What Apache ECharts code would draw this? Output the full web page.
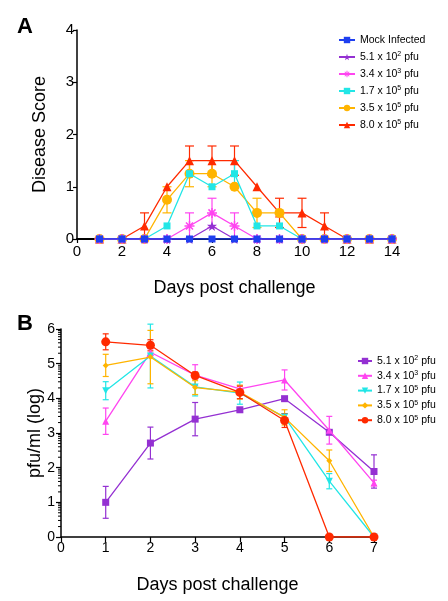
<!DOCTYPE html>
<html><head><meta charset="utf-8">
<script src="https://cdn.jsdelivr.net/npm/echarts@6/dist/echarts.min.js"></script>
<style>html,body{margin:0;padding:0;background:#fff}#c{width:448px;height:601px}</style>
</head><body><div id="c"></div>
<script>
// ---------- Panel A data ----------
const daysA = [1,2,3,4,5,6,7,8,9,10,11,12,13,14];
const namesA = ['Mock Infected','5.1 x 10^2 pfu','3.4 x 10^3 pfu','1.7 x 10^5 pfu','3.5 x 10^5 pfu','8.0 x 10^5 pfu'];
const mockA = [0,0,0,0,0,0,0,0,0,0,0,0,0,0];
const a512 = [0,0,0,0,0,0.25,0,0,0,0,0,0,0,0];
const a343 = [0,0,0,0,0.25,0.5,0.25,0,0,0,0,0,0,0];
const a175 = [0,0,0,0.25,1.25,1.0,1.25,0.25,0.25,0,0,0,0,0];
const a355 = [0,0,0,0.75,1.25,1.25,1.0,0.5,0.5,0,0,0,0,0];
const a805 = [0,0,0.25,1.0,1.5,1.5,1.5,1.0,0.5,0.5,0.25,0,0,0];
const errA343 = [null,null,null,null,0.25,0.28,0.25,null,null,null,null,null,null,null];
const errA175 = [null,null,null,null,null,null,0.25,null,null,null,null,null,null,null];
const errA355 = [null,null,null,0.25,0.25,0.25,null,0.28,null,null,null,null,null,null];
const errA805 = [null,null,0.25,null,0.28,0.28,0.28,null,0.28,0.28,0.25,null,null,null];
const yTicksA = [0,1,2,3,4];
const xTicksA = [0,2,4,6,8,10,12,14];

// ---------- Panel B data ----------
const daysB = [1,2,3,4,5,6,7];
// trailing space keeps the B legend entries distinct from panel A series
const namesB = ['5.1 x 10^2 pfu ','3.4 x 10^3 pfu ','1.7 x 10^5 pfu ','3.5 x 10^5 pfu ','8.0 x 10^5 pfu '];
const b512 = [1.0,2.71,3.40,3.67,3.99,3.02,1.89];
const b343 = [3.34,5.33,4.67,4.27,4.53,3.08,1.56];
const b175 = [4.22,5.22,4.33,4.15,3.46,1.61,0];
const b355 = [4.95,5.19,4.31,4.18,3.45,2.2,0];
const b805 = [5.63,5.53,4.66,4.17,3.36,0,0];
const errB512 = [0.46,0.46,0.48,0.05,null,0.05,0.48];
const errB343 = [0.38,0.1,0.3,0.1,0.29,0.4,0.08];
const errB175 = [0.26,0.92,0.26,0.32,0.1,0.22,null];
const errB355 = [0.32,0.77,0.2,0.2,0.22,0.31,null];
const errB805 = [0.23,0.16,0.1,0.18,0.2,null,null];
const yTicksB = [0,1,2,3,4,5,6];
const xTicksB = [0,1,2,3,4,5,6,7];

const FONT = 'Liberation Sans, Arial, Helvetica, sans-serif';
const C = {mock:'#1e3ff0', pur:'#9430d2', mag:'#ff45f0', cyan:'#22e6e6', ora:'#ffb400', red:'#ff2a00'};

const STAR = 'path://M0,-10L2.35,-3.24L9.51,-3.09L3.8,1.24L5.88,8.09L0,4L-5.88,8.09L-3.8,1.24L-9.51,-3.09L-2.35,-3.24Z';
const AST = 'path://M-1.5,-10L1.5,-10L1.5,10L-1.5,10Z M-10,-1.5L10,-1.5L10,1.5L-10,1.5Z M-8.1,-6L-6,-8.1L8.1,6L6,8.1Z M6,-8.1L8.1,-6L-6,8.1L-8.1,6Z';

function pairs(xs, ys){ return xs.map((x,i)=>[x, ys[i]]); }
function errData(xs, ys, es){ const out=[]; xs.forEach((x,i)=>{ if(es[i]!=null) out.push([x, ys[i], es[i]]); }); return out; }

function errSeries(xi, yi, data, color, cap, z){
  return {
    type:'custom', xAxisIndex:xi, yAxisIndex:yi, silent:true, z:z, clip:false,
    data:data,
    renderItem:function(params, api){
      const x=api.value(0), y=api.value(1), e=api.value(2);
      const hi=api.coord([x, y+e]), lo=api.coord([x, Math.max(0,y-e)]);
      const st={stroke:color, lineWidth:1.2};
      return {type:'group', children:[
        {type:'line', shape:{x1:hi[0],y1:hi[1],x2:lo[0],y2:lo[1]}, style:st},
        {type:'line', shape:{x1:hi[0]-cap,y1:hi[1],x2:hi[0]+cap,y2:hi[1]}, style:st},
        {type:'line', shape:{x1:lo[0]-cap,y1:lo[1],x2:lo[0]+cap,y2:lo[1]}, style:st}
      ]};
    }
  };
}
function lineSeries(name, xi, yi, data, color, symbol, size, z, extra){
  return Object.assign({
    name:name, type:'line', xAxisIndex:xi, yAxisIndex:yi, data:data,
    symbol:symbol, symbolSize:size, showAllSymbol:true, z:z,
    lineStyle:{color:color, width:1.3}, itemStyle:{color:color},
    emphasis:{disabled:true}, animation:false
  }, extra||{});
}

const minorB = [];
for (let n=0;n<6;n++) for (let k=2;k<=9;k++) minorB.push([0, n+Math.log10(k)]);

const supFmt = name => name.trim().replace(/\^(\d)/, '{sup|$1}');
const legendText = {fontSize:10.5, fontFamily:FONT, color:'#000', lineHeight:12,
  rich:{sup:{fontSize:7, fontFamily:FONT, color:'#000', verticalAlign:'top', lineHeight:8, padding:[0,0,5,0]}}};

const option = {
  animation:false,
  backgroundColor:'#fff',
  title:[
    {text:'A', left:12, top:11, textStyle:{fontSize:22, fontWeight:'bold', fontFamily:FONT, color:'#000'}},
    {text:'B', left:12, top:308, textStyle:{fontSize:22, fontWeight:'bold', fontFamily:FONT, color:'#000'}}
  ],
  legend:[
    {data:namesA, left:333, top:29, orient:'vertical', itemWidth:16, itemHeight:8, itemGap:5,
     formatter:supFmt, textStyle:legendText, selectedMode:false},
    {data:namesB, left:352, top:350, orient:'vertical', itemWidth:14, itemHeight:8, itemGap:2.8,
     formatter:supFmt, textStyle:legendText, selectedMode:false}
  ],
  grid:[
    {left:77, right:56, top:30, height:209},
    {left:61, right:74, top:329, height:208}
  ],
  xAxis:[
    {gridIndex:0, type:'value', min:0, max:14, interval:2, z:3,
     axisLine:{lineStyle:{color:'#000', width:2}}, axisTick:{length:4, lineStyle:{color:'#000', width:1.2}},
     axisLabel:{fontSize:15, color:'#000', fontFamily:FONT, margin:5}, splitLine:{show:false},
     name:'Days post challenge', nameLocation:'middle', nameGap:40,
     nameTextStyle:{fontSize:18, color:'#000', fontFamily:FONT}},
    {gridIndex:1, type:'value', min:0, max:7, interval:1,
     axisLine:{lineStyle:{color:'#000', width:1.5}}, axisTick:{length:5, lineStyle:{color:'#000', width:1.2}},
     axisLabel:{fontSize:14, color:'#000', fontFamily:FONT, margin:4}, splitLine:{show:false},
     name:'Days post challenge', nameLocation:'middle', nameGap:39,
     nameTextStyle:{fontSize:18, color:'#000', fontFamily:FONT}}
  ],
  yAxis:[
    {gridIndex:0, type:'value', min:0, max:4, interval:1,
     axisLine:{show:true, lineStyle:{color:'#000', width:1.5}}, axisTick:{show:true, length:4, lineStyle:{color:'#000', width:1.2}},
     axisLabel:{fontSize:15, color:'#000', fontFamily:FONT, margin:3}, splitLine:{show:false},
     name:'Disease Score', nameLocation:'middle', nameGap:28, nameRotate:90,
     nameTextStyle:{fontSize:18, color:'#000', fontFamily:FONT}},
    {gridIndex:1, type:'value', min:0, max:6, interval:1,
     axisLine:{show:true, lineStyle:{color:'#000', width:1.5}}, axisTick:{show:true, length:5, lineStyle:{color:'#000', width:1.2}},
     axisLabel:{fontSize:14, color:'#000', fontFamily:FONT, margin:6}, splitLine:{show:false},
     name:'pfu/ml (log)', nameLocation:'middle', nameGap:17, nameRotate:90, nameMoveOverlap:false,
     nameTextStyle:{fontSize:18, color:'#000', fontFamily:FONT}}
  ],
  series:[
    errSeries(0,0, errData(daysA, a805, errA805), C.red, 4.5, 2),
    errSeries(0,0, errData(daysA, a355, errA355), C.ora, 4.5, 2),
    errSeries(0,0, errData(daysA, a175, errA175), C.cyan, 4.5, 2),
    errSeries(0,0, errData(daysA, a343, errA343), C.mag, 4.5, 2),
    lineSeries(namesA[5], 0,0, pairs(daysA,a805), C.red, 'triangle', 9, 4),
    lineSeries(namesA[4], 0,0, pairs(daysA,a355), C.ora, 'circle', 10, 5),
    lineSeries(namesA[3], 0,0, pairs(daysA,a175), C.cyan, 'rect', 7, 6),
    lineSeries(namesA[2], 0,0, pairs(daysA,a343), C.mag, AST, 10, 7),
    lineSeries(namesA[1], 0,0, pairs(daysA,a512), C.pur, STAR, 10, 8),
    lineSeries(namesA[0], 0,0, pairs(daysA,mockA), C.mock, 'rect', 7, 9),
    errSeries(1,1, errData(daysB, b512, errB512), C.pur, 3, 2),
    errSeries(1,1, errData(daysB, b343, errB343), C.mag, 3, 2),
    errSeries(1,1, errData(daysB, b175, errB175), C.cyan, 3, 2),
    errSeries(1,1, errData(daysB, b355, errB355), C.ora, 3, 2),
    errSeries(1,1, errData(daysB, b805, errB805), C.red, 3, 2),
    lineSeries(namesB[0], 1,1, pairs(daysB,b512), C.pur, 'rect', 7, 4),
    lineSeries(namesB[1], 1,1, pairs(daysB,b343), C.mag, 'triangle', 7, 5),
    lineSeries(namesB[2], 1,1, pairs(daysB,b175), C.cyan, 'triangle', 7, 6, {symbolRotate:180}),
    lineSeries(namesB[3], 1,1, pairs(daysB,b355), C.ora, 'diamond', 6, 7),
    lineSeries(namesB[4], 1,1, pairs(daysB,b805), C.red, 'circle', 9, 8),
    {type:'custom', xAxisIndex:1, yAxisIndex:1, silent:true, clip:false, z:3, data:minorB,
     renderItem:function(params, api){
       const p=api.coord([0, api.value(1)]);
       return {type:'line', shape:{x1:p[0]-3, y1:p[1], x2:p[0], y2:p[1]}, style:{stroke:'#000', lineWidth:1}};
     }}
  ]
};
const chart = echarts.init(document.getElementById('c'), null, {renderer:'canvas'});
chart.setOption(option);
</script></body></html>
